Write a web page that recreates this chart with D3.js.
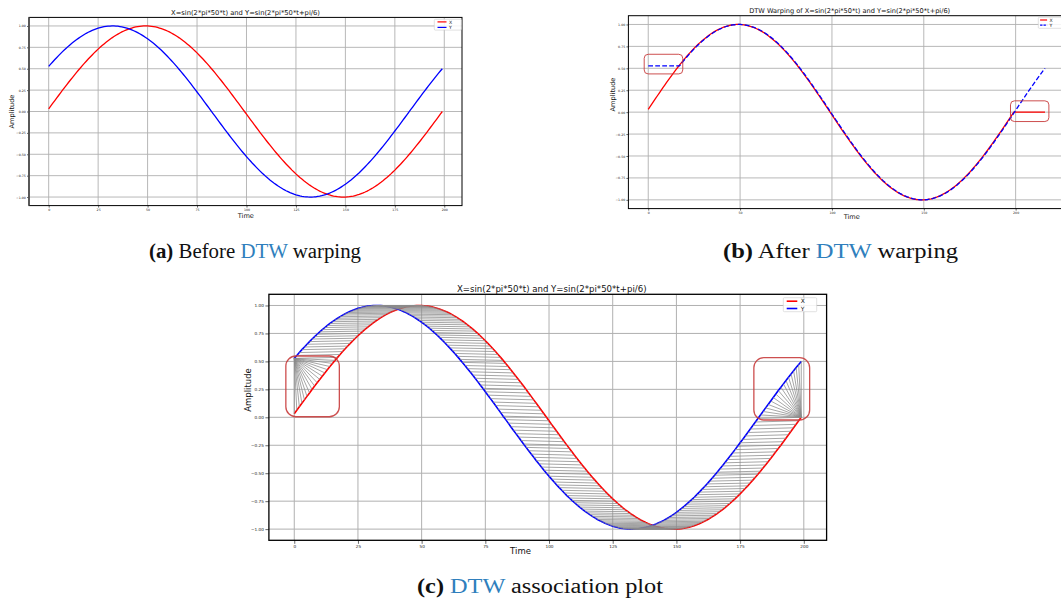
<!DOCTYPE html>
<html>
<head>
<meta charset="utf-8">
<script src="https://cdn.jsdelivr.net/npm/d3@7"></script>
<style>
  body { margin: 0; background: #fff; }
  svg { display: block; }
</style>
</head>
<body>
<svg id="fig" width="1061" height="600"></svg>
<script>
// X = sin(2*pi*50*t), 200 samples
const seriesX = [
  0.031, 0.063, 0.094, 0.125, 0.156, 0.187, 0.218, 0.249, 0.279, 0.309,
  0.339, 0.368, 0.397, 0.426, 0.454, 0.482, 0.509, 0.536, 0.562, 0.588,
  0.613, 0.637, 0.661, 0.685, 0.707, 0.729, 0.750, 0.771, 0.790, 0.809,
  0.827, 0.844, 0.861, 0.876, 0.891, 0.905, 0.918, 0.930, 0.941, 0.951,
  0.960, 0.969, 0.976, 0.982, 0.988, 0.992, 0.996, 0.998, 1.000, 1.000,
  1.000, 0.998, 0.996, 0.992, 0.988, 0.982, 0.976, 0.969, 0.960, 0.951,
  0.941, 0.930, 0.918, 0.905, 0.891, 0.876, 0.861, 0.844, 0.827, 0.809,
  0.790, 0.771, 0.750, 0.729, 0.707, 0.685, 0.661, 0.637, 0.613, 0.588,
  0.562, 0.536, 0.509, 0.482, 0.454, 0.426, 0.397, 0.368, 0.339, 0.309,
  0.279, 0.249, 0.218, 0.187, 0.156, 0.125, 0.094, 0.063, 0.031, 0.000,
  -0.031, -0.063, -0.094, -0.125, -0.156, -0.187, -0.218, -0.249, -0.279, -0.309,
  -0.339, -0.368, -0.397, -0.426, -0.454, -0.482, -0.509, -0.536, -0.562, -0.588,
  -0.613, -0.637, -0.661, -0.685, -0.707, -0.729, -0.750, -0.771, -0.790, -0.809,
  -0.827, -0.844, -0.861, -0.876, -0.891, -0.905, -0.918, -0.930, -0.941, -0.951,
  -0.960, -0.969, -0.976, -0.982, -0.988, -0.992, -0.996, -0.998, -1.000, -1.000,
  -1.000, -0.998, -0.996, -0.992, -0.988, -0.982, -0.976, -0.969, -0.960, -0.951,
  -0.941, -0.930, -0.918, -0.905, -0.891, -0.876, -0.861, -0.844, -0.827, -0.809,
  -0.790, -0.771, -0.750, -0.729, -0.707, -0.685, -0.661, -0.637, -0.613, -0.588,
  -0.562, -0.536, -0.509, -0.482, -0.454, -0.426, -0.397, -0.368, -0.339, -0.309,
  -0.279, -0.249, -0.218, -0.187, -0.156, -0.125, -0.094, -0.063, -0.031, 0.000
];

// Y = sin(2*pi*50*t + pi/6), 200 samples
const seriesY = [
  0.527, 0.553, 0.579, 0.605, 0.629, 0.653, 0.677, 0.700, 0.722, 0.743,
  0.764, 0.784, 0.803, 0.821, 0.839, 0.855, 0.871, 0.886, 0.900, 0.914,
  0.926, 0.937, 0.948, 0.957, 0.966, 0.974, 0.980, 0.986, 0.991, 0.995,
  0.997, 0.999, 1.000, 1.000, 0.999, 0.997, 0.993, 0.989, 0.984, 0.978,
  0.971, 0.963, 0.954, 0.944, 0.934, 0.922, 0.909, 0.896, 0.881, 0.866,
  0.850, 0.833, 0.815, 0.797, 0.777, 0.757, 0.736, 0.715, 0.692, 0.669,
  0.645, 0.621, 0.596, 0.571, 0.545, 0.518, 0.491, 0.463, 0.435, 0.407,
  0.378, 0.349, 0.319, 0.289, 0.259, 0.228, 0.198, 0.167, 0.136, 0.105,
  0.073, 0.042, 0.010, -0.021, -0.052, -0.084, -0.115, -0.146, -0.177, -0.208,
  -0.239, -0.269, -0.299, -0.329, -0.358, -0.388, -0.416, -0.445, -0.473, -0.500,
  -0.527, -0.553, -0.579, -0.605, -0.629, -0.653, -0.677, -0.700, -0.722, -0.743,
  -0.764, -0.784, -0.803, -0.821, -0.839, -0.855, -0.871, -0.886, -0.900, -0.914,
  -0.926, -0.937, -0.948, -0.957, -0.966, -0.974, -0.980, -0.986, -0.991, -0.995,
  -0.997, -0.999, -1.000, -1.000, -0.999, -0.997, -0.993, -0.989, -0.984, -0.978,
  -0.971, -0.963, -0.954, -0.944, -0.934, -0.922, -0.909, -0.896, -0.881, -0.866,
  -0.850, -0.833, -0.815, -0.797, -0.777, -0.757, -0.736, -0.715, -0.692, -0.669,
  -0.645, -0.621, -0.596, -0.571, -0.545, -0.518, -0.491, -0.463, -0.435, -0.407,
  -0.378, -0.349, -0.319, -0.289, -0.259, -0.228, -0.198, -0.167, -0.136, -0.105,
  -0.073, -0.042, -0.010, 0.021, 0.052, 0.084, 0.115, 0.146, 0.177, 0.208,
  0.239, 0.269, 0.299, 0.329, 0.358, 0.388, 0.416, 0.445, 0.473, 0.500
];

const timeTicks = [0, 25, 50, 75, 100, 125, 150, 175, 200];
const warpTicks = [0, 50, 100, 150, 200];
const ampTicks = [-1, -0.75, -0.5, -0.25, 0, 0.25, 0.5, 0.75, 1];
const seriesNames = ["X", "Y"];
const plotTitle = "X=sin(2*pi*50*t) and Y=sin(2*pi*50*t+pi/6)";
const warpTitle = "DTW Warping of  X=sin(2*pi*50*t) and Y=sin(2*pi*50*t+pi/6)";

const SANS = "'DejaVu Sans', sans-serif";
const SERIF = "'Liberation Serif', 'DejaVu Serif', serif";
const RED = "#ff0000", BLUE = "#0000ff", LINK = "#2f7fbd", BOXRED = "#c83c3c";

const svg = d3.select("#fig");
const defs = svg.append("defs");
const fmtAmp = d3.format(".2f");
const fmtTime = d3.format("d");

// Dynamic time warping with squared distance; returns the optimal path as [i, j] pairs.
function dtwPath(a, b) {
  const n = a.length, m = b.length;
  const D = Array.from({ length: n }, () => new Float64Array(m).fill(Infinity));
  for (let i = 0; i < n; i++) {
    for (let j = 0; j < m; j++) {
      const c = (a[i] - b[j]) ** 2;
      if (i === 0 && j === 0) { D[i][j] = c; continue; }
      const diag = i > 0 && j > 0 ? D[i - 1][j - 1] : Infinity;
      const up = i > 0 ? D[i - 1][j] : Infinity;
      const left = j > 0 ? D[i][j - 1] : Infinity;
      D[i][j] = c + Math.min(diag, up, left);
    }
  }
  let i = n - 1, j = m - 1;
  const path = [[i, j]];
  while (i > 0 || j > 0) {
    if (i === 0) j--;
    else if (j === 0) i--;
    else {
      const diag = D[i - 1][j - 1], up = D[i - 1][j], left = D[i][j - 1];
      if (diag <= up && diag <= left) { i--; j--; }
      else if (up <= left) i--;
      else j--;
    }
    path.push([i, j]);
  }
  return path.reverse();
}

// Builds one matplotlib-style axes: grid, ticks, frame and labels.
function makeAxes(p) {
  const x = d3.scaleLinear().domain(p.xDomain).range([p.left, p.right]);
  const y = d3.scaleLinear().domain([-1.1, 1.1]).range([p.bottom, p.top]);
  const root = svg.append("g");
  const clipId = "clip-" + p.id;
  defs.append("clipPath").attr("id", clipId).append("rect")
    .attr("x", p.left).attr("y", p.top)
    .attr("width", p.right - p.left).attr("height", p.bottom - p.top);

  const grid = root.append("g").attr("clip-path", `url(#${clipId})`);
  grid.selectAll("line.gx").data(p.xTicks).join("line")
    .attr("x1", d => x(d)).attr("x2", d => x(d))
    .attr("y1", p.top).attr("y2", p.bottom)
    .attr("stroke", "#b0b0b0").attr("stroke-width", p.gridW);
  grid.selectAll("line.gy").data(ampTicks).join("line")
    .attr("y1", d => y(d)).attr("y2", d => y(d))
    .attr("x1", p.left).attr("x2", p.right)
    .attr("stroke", "#b0b0b0").attr("stroke-width", p.gridW);

  const data = root.append("g").attr("clip-path", `url(#${clipId})`);

  const ax = root.append("g").attr("transform", `translate(0,${p.bottom})`)
    .call(d3.axisBottom(x).tickValues(p.xTicks).tickFormat(fmtTime)
      .tickSize(p.tickLen).tickPadding(p.tickPad));
  const ay = root.append("g").attr("transform", `translate(${p.left},0)`)
    .call(d3.axisLeft(y).tickValues(ampTicks).tickFormat(fmtAmp)
      .tickSize(p.tickLen).tickPadding(p.tickPad));
  [ax, ay].forEach(a => {
    a.select(".domain").remove();
    a.selectAll("line").attr("stroke", "#000").attr("stroke-width", 0.6);
    a.selectAll("text").attr("font-size", p.tickFont).attr("font-family", SANS).attr("fill", "#222");
  });

  const top = root.append("g");
  top.append("rect")
    .attr("x", p.left).attr("y", p.top)
    .attr("width", p.right - p.left).attr("height", p.bottom - p.top)
    .attr("fill", "none").attr("stroke", "#000").attr("stroke-width", p.frameW);
  if (p.leftSpineW) {
    top.append("line").attr("x1", p.left).attr("x2", p.left)
      .attr("y1", p.top).attr("y2", p.bottom)
      .attr("stroke", "#555").attr("stroke-width", p.leftSpineW);
  }

  top.append("text").attr("x", p.titleX).attr("y", p.titleY)
    .attr("text-anchor", "middle").attr("font-family", SANS)
    .attr("font-size", p.titleFont).attr("fill", "#111").text(p.title);
  top.append("text").attr("x", p.xlabX).attr("y", p.xlabY)
    .attr("text-anchor", "middle").attr("font-family", SANS)
    .attr("font-size", p.labFont).attr("fill", "#111").text("Time");
  top.append("text")
    .attr("transform", `translate(${p.ylabX},${p.ylabY}) rotate(-90)`)
    .attr("text-anchor", "middle").attr("dy", "0.35em").attr("font-family", SANS)
    .attr("font-size", p.labFont).attr("fill", "#111").text("Amplitude");

  return { x, y, data, top };
}

// Upper-right legend box with a short line sample for each series.
function legend(layer, L, styles) {
  layer.append("rect")
    .attr("x", L.x).attr("y", L.y).attr("width", L.w).attr("height", L.h)
    .attr("rx", 1).attr("fill", "#fff").attr("fill-opacity", 0.85)
    .attr("stroke", "#cccccc").attr("stroke-width", 0.6);
  seriesNames.forEach((name, k) => {
    const cy = L.y + L.row0 + k * L.gap;
    layer.append("line")
      .attr("x1", L.x + L.pad).attr("x2", L.x + L.pad + L.len)
      .attr("y1", cy).attr("y2", cy)
      .attr("stroke", styles[k].color).attr("stroke-width", styles[k].width)
      .attr("stroke-dasharray", styles[k].dash || null);
    layer.append("text")
      .attr("x", L.x + L.pad + L.len + L.txtGap).attr("y", cy)
      .attr("dy", "0.35em").attr("font-family", SANS).attr("font-size", L.font)
      .attr("fill", "#111").text(name);
  });
}

// Rounded highlight box given in data coordinates.
function highlight(A, r0) {
  A.top.append("rect")
    .attr("x", A.x(r0.x0)).attr("y", A.y(r0.y1))
    .attr("width", A.x(r0.x1) - A.x(r0.x0)).attr("height", A.y(r0.y0) - A.y(r0.y1))
    .attr("rx", r0.r).attr("ry", r0.r)
    .attr("fill", "none").attr("stroke", BOXRED).attr("stroke-opacity", 0.9)
    .attr("stroke-width", r0.w);
}

function caption(cx, cy, width, letter, words) {
  const t = svg.append("text").attr("x", cx).attr("y", cy)
    .attr("text-anchor", "middle").attr("font-family", SERIF)
    .attr("font-size", 20).attr("fill", "#111")
    .attr("textLength", width).attr("lengthAdjust", "spacingAndGlyphs");
  t.append("tspan").attr("font-weight", "bold").text(`(${letter})`);
  t.append("tspan").text(" " + words[0] + (words[0] ? " " : ""));
  t.append("tspan").attr("fill", LINK).text("DTW");
  t.append("tspan").text(" " + words[1]);
}

const n = seriesX.length;
const idx = d3.range(n);
const timePad = (n - 1) * 0.05;
const path = dtwPath(seriesX, seriesY);

// (a) raw series
{
  const A = makeAxes({
    id: "a", left: 29, right: 462, top: 17.4, bottom: 205.6,
    xDomain: [-timePad, n - 1 + timePad], xTicks: timeTicks,
    gridW: 0.9, tickLen: 2, tickPad: 1.2, tickFont: 3.2, frameW: 1, leftSpineW: 1.8,
    title: plotTitle, titleX: 245.5, titleY: 15.2, titleFont: 6.75,
    xlabX: 245.8, xlabY: 217.8, ylabX: 11.8, ylabY: 111.5, labFont: 6.6
  });
  A.data.append("path").datum(idx)
    .attr("d", d3.line().x(i => A.x(i)).y(i => A.y(seriesX[i])))
    .attr("fill", "none").attr("stroke", RED).attr("stroke-width", 1.3);
  A.data.append("path").datum(idx)
    .attr("d", d3.line().x(i => A.x(i)).y(i => A.y(seriesY[i])))
    .attr("fill", "none").attr("stroke", BLUE).attr("stroke-width", 1.3);
  legend(A.top, { x: 434.3, y: 19.3, w: 27, h: 10.8, pad: 3.2, len: 9, txtGap: 2.5, row0: 2.6, gap: 5.5, font: 4.6 },
    [{ color: RED, width: 1.2 }, { color: BLUE, width: 1.2 }]);
}

// (b) series after warping, indexed along the DTW path
{
  const L = path.length;
  const pad = (L - 1) * 0.05;
  const A = makeAxes({
    id: "b", left: 628.4, right: 628.4 + (L - 1) * 1.1 * 1.837, top: 15.7, bottom: 208.6,
    xDomain: [-pad, L - 1 + pad], xTicks: warpTicks,
    gridW: 0.9, tickLen: 2, tickPad: 1.2, tickFont: 3.2, frameW: 1,
    title: warpTitle, titleX: 849.7, titleY: 13.2, titleFont: 6.6,
    xlabX: 851.7, xlabY: 219.2, ylabX: 612.7, ylabY: 94.5, labFont: 6.6
  });
  const k = d3.range(L);
  A.data.append("path").datum(k)
    .attr("d", d3.line().x(t => A.x(t)).y(t => A.y(seriesX[path[t][0]])))
    .attr("fill", "none").attr("stroke", RED).attr("stroke-width", 1.3);
  A.data.append("path").datum(k)
    .attr("d", d3.line().x(t => A.x(t)).y(t => A.y(seriesY[path[t][1]])))
    .attr("fill", "none").attr("stroke", BLUE).attr("stroke-width", 1.3)
    .attr("stroke-dasharray", "4.8,2.2");
  highlight(A, { x0: -2.2, x1: 18.8, y0: 0.436, y1: 0.66, r: 4, w: 1 });
  highlight(A, { x0: 197.2, x1: 218.1, y0: -0.107, y1: 0.129, r: 4, w: 1 });
  legend(A.top, { x: 1038.3, y: 17.3, w: 26, h: 11, pad: 1.8, len: 7, txtGap: 2.5, row0: 2.7, gap: 5.2, font: 4.6 },
    [{ color: RED, width: 1.2 }, { color: BLUE, width: 1.2, dash: "2.4,1" }]);
}

// (c) association lines between matched samples, drawn over both curves
{
  const A = makeAxes({
    id: "c", left: 268.9, right: 826.6, top: 294.3, bottom: 540.3,
    xDomain: [-timePad, n - 1 + timePad], xTicks: timeTicks,
    gridW: 1, tickLen: 3.5, tickPad: 1.5, tickFont: 4.2, frameW: 1.3,
    title: plotTitle, titleX: 551.7, titleY: 291.6, titleFont: 8.6,
    xlabX: 520.5, xlabY: 554, ylabX: 248.5, ylabY: 390, labFont: 8.5
  });
  A.data.append("path").datum(idx)
    .attr("d", d3.line().x(i => A.x(i)).y(i => A.y(seriesX[i])))
    .attr("fill", "none").attr("stroke", RED).attr("stroke-width", 1.6);
  A.data.append("path").datum(idx)
    .attr("d", d3.line().x(i => A.x(i)).y(i => A.y(seriesY[i])))
    .attr("fill", "none").attr("stroke", BLUE).attr("stroke-width", 1.6);
  A.data.append("g").selectAll("line").data(path).join("line")
    .attr("x1", d => A.x(d[0])).attr("y1", d => A.y(seriesX[d[0]]))
    .attr("x2", d => A.x(d[1])).attr("y2", d => A.y(seriesY[d[1]]))
    .attr("stroke", "#8a8a8a").attr("stroke-opacity", 0.9).attr("stroke-width", 0.85);
  highlight(A, { x0: -3.3, x1: 17.7, y0: 0.005, y1: 0.548, r: 10, w: 1.3 });
  highlight(A, { x0: 180.4, x1: 202.3, y0: -0.024, y1: 0.533, r: 10, w: 1.3 });
  legend(A.top, { x: 783.3, y: 297.7, w: 33.4, h: 14, pad: 3.4, len: 10.6, txtGap: 3.5, row0: 3.5, gap: 7.3, font: 6 },
    [{ color: RED, width: 1.6 }, { color: BLUE, width: 1.6 }]);
}

caption(255, 258, 212, "a", ["Before", "warping"]);
caption(840.5, 258, 235, "b", ["After", "warping"]);
caption(540, 593, 246, "c", ["", "association plot"]);
</script>
</body>
</html>
